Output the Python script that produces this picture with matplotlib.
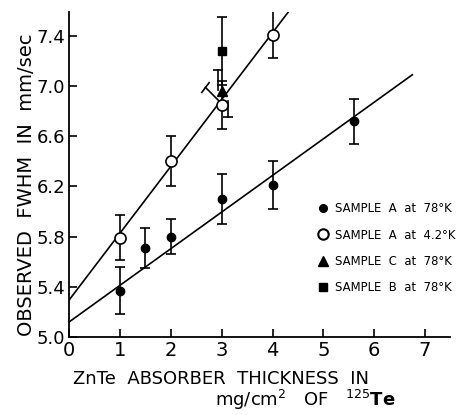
import matplotlib
matplotlib.use("Agg")
import matplotlib.pyplot as plt
from matplotlib.lines import Line2D

plt.rcParams['font.family'] = 'DejaVu Sans'

# sample A at 78 K (filled circles)
a78_x = [1, 1.5, 2, 3, 4, 5.6]
a78_y = [5.37, 5.71, 5.80, 6.10, 6.21, 6.72]
a78_err = [0.19, 0.16, 0.14, 0.20, 0.19, 0.18]

# sample A at 4.2 K (open circles)
a42_x = [1, 2, 3, 4]
a42_y = [5.79, 6.40, 6.85, 7.41]
a42_err = [0.18, 0.20, 0.19, 0.19]

# sample C at 78 K (triangle), error bar drawn in two offset pieces
c78_x = [3]
c78_y = [6.96]
c78_bar_x = [2.92, 3.12]
c78_bar_from = [6.97, 6.88]
c78_bar_to = [7.13, 6.75]
c78_diag_x = [2.68, 3.0]
c78_diag_y = [6.99, 6.86]

# sample B at 78 K (square)
b78_x = [3]
b78_y = [7.28]
b78_err = [0.27]

# fitted lines
fit78_x = [0, 6.75]
fit78_y = [5.12, 7.09]
fit42_x = [0, 4.31]
fit42_y = [5.295, 7.59]

xticks = [0, 1, 2, 3, 4, 5, 6, 7]
yticks = [5.0, 5.4, 5.8, 6.2, 6.6, 7.0, 7.4]

fig = plt.figure(figsize=(4.61, 4.15), dpi=100)
ax = fig.add_axes([0.150, 0.188, 0.826, 0.783])

lw = 1.2
ax.plot(fit78_x, fit78_y, color="black", lw=lw)
ax.plot(fit42_x, fit42_y, color="black", lw=lw)

eb = dict(color="black", ecolor="black", elinewidth=lw, capsize=3.5, capthick=lw, ls="none")
ax.errorbar(a78_x, a78_y, yerr=a78_err, fmt="o", ms=6, **eb)
ax.errorbar(a42_x, a42_y, yerr=a42_err, fmt="o", ms=8, mfc="white", mec="black", mew=1.2, **eb)
ax.errorbar(b78_x, b78_y, yerr=b78_err, fmt="s", ms=6, **eb)
ax.plot(c78_x, c78_y, "^", color="black", ms=7)
for x, y0, y1 in zip(c78_bar_x, c78_bar_from, c78_bar_to):
    ax.plot([x, x], [y0, y1], color="black", lw=lw)
    ax.plot([x], [y1], marker="_", ms=7, mew=lw, color="black")
ax.plot(c78_diag_x, c78_diag_y, color="black", lw=lw)
ax.plot([c78_diag_x[0]], [c78_diag_y[0]], marker=[(-0.6, -0.8), (0.6, 0.8)],
        ms=8, mew=lw, color="black")

ax.set_xlim(0, 7.49)
ax.set_ylim(5.0, 7.59)
ax.set_xticks(xticks)
ax.set_yticks(yticks)
ax.set_xticklabels([str(t) for t in xticks], fontsize=14)
ax.set_yticklabels(["%.1f" % t for t in yticks], fontsize=13)
ax.tick_params(direction="in", length=6, width=1.2, pad=3)
for s in ["top", "right"]:
    ax.spines[s].set_visible(False)
for s in ["left", "bottom"]:
    ax.spines[s].set_linewidth(1.3)

fig.text(0.058, 0.555, "OBSERVED  FWHM  IN  mm/sec", fontsize=14, rotation=90,
         ha="center", va="center")
fig.text(0.48, 0.086, "ZnTe  ABSORBER  THICKNESS  IN", fontsize=13, ha="center", va="center")
fig.text(0.857, 0.036, r"mg/cm$^2$   OF   $^{125}\mathbf{Te}$", fontsize=13,
         ha="right", va="center")

handles = [
    Line2D([], [], marker="o", ls="none", color="black", ms=5.5),
    Line2D([], [], marker="o", ls="none", mfc="white", mec="black", mew=1.5, ms=7.5),
    Line2D([], [], marker="^", ls="none", color="black", ms=7),
    Line2D([], [], marker="s", ls="none", color="black", ms=5.5),
]
labels = ["SAMPLE  A  at  78°K", "SAMPLE  A  at  4.2°K", "SAMPLE  C  at  78°K", "SAMPLE  B  at  78°K"]
fig.legend(handles, labels, loc="upper left", bbox_to_anchor=(0.687, 0.513), frameon=False,
           fontsize=8.4, handlelength=1.05, handletextpad=0.55, labelspacing=1.15,
           borderaxespad=0, borderpad=0)

fig.savefig("out.png", dpi=100)
